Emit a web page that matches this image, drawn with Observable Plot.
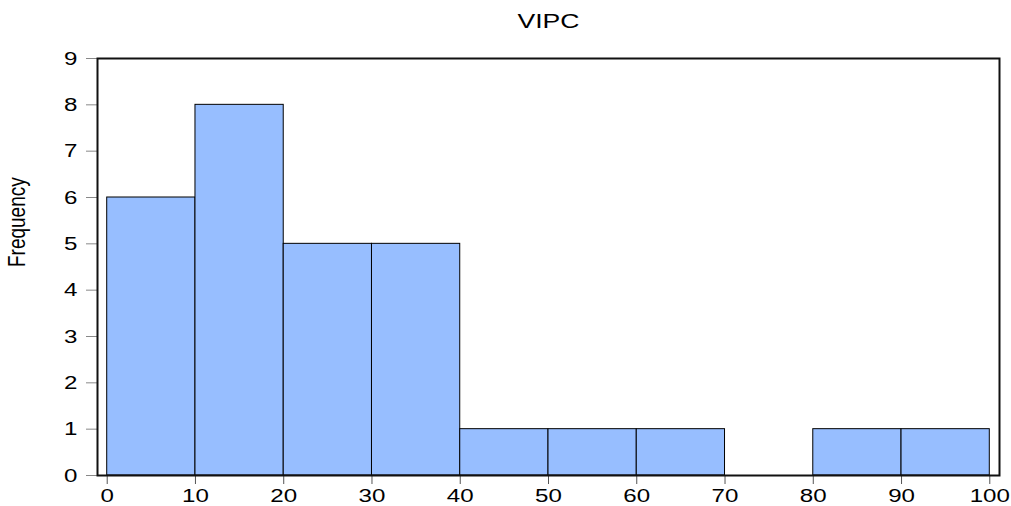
<!DOCTYPE html>
<html>
<head>
<meta charset="utf-8">
<script src="https://cdn.jsdelivr.net/npm/d3@7"></script>
<script src="https://cdn.jsdelivr.net/npm/@observablehq/plot@0.6"></script>
<style>
  html, body { margin: 0; padding: 0; background: #fff; }
  #chart svg { display: block; }
</style>
</head>
<body>
<div id="chart"></div>
<script>
const binStart = [0, 10, 20, 30, 40, 50, 60, 70, 80, 90];
const binEnd   = [10, 20, 30, 40, 50, 60, 70, 80, 90, 100];
const counts   = [6, 8, 5, 5, 1, 1, 1, 0, 1, 1];
const xTicks = [0, 10, 20, 30, 40, 50, 60, 70, 80, 90, 100];
const yTicks = [0, 1, 2, 3, 4, 5, 6, 7, 8, 9];
const title = "VIPC";
const yLabel = "Frequency";

const bins = binStart.map((s, i) => ({x1: s, x2: binEnd[i], y: counts[i]})).filter(d => d.y > 0);
const FONT = "'Liberation Sans', Arial, sans-serif";

// render transform: stretch each text element about its own anchor point
function stretchText(sx, sy) {
  return function (index, scales, values, dimensions, context, next) {
    const g = next(index, scales, values, dimensions, context);
    if (g && g.querySelectorAll) {
      g.querySelectorAll("text").forEach(t => {
        const tr = t.getAttribute("transform") || "";
        t.setAttribute("transform", `${tr} scale(${sx},${sy})`);
      });
    }
    return g;
  };
}

const chart = Plot.plot({
  width: 1011,
  height: 506,
  marginLeft: 97,
  marginRight: 12,
  marginTop: 58,
  marginBottom: 31,
  style: {fontFamily: FONT, color: "#000", background: "#fff"},
  x: {domain: [-1.1, 101.1], label: null, axis: null},
  y: {domain: [0, 9], label: null, axis: null},
  marks: [
    Plot.rectY(bins, {x1: "x1", x2: "x2", y: "y", fill: "#97BEFF", stroke: "#000", strokeWidth: 1}),
    Plot.axisX({ticks: xTicks, tickSize: 9, tickPadding: 4, stroke: "#555", fill: "#000", fontSize: 19, label: null, render: stretchText(1.27, 1)}),
    Plot.axisY({ticks: yTicks, tickSize: 11, tickPadding: 9, stroke: "#888", fill: "#000", fontSize: 19, label: null, render: stretchText(1.27, 1)}),
    Plot.frame({stroke: "#111", strokeWidth: 2}),
    Plot.text([title], {frameAnchor: "top", dy: -45, fontSize: 20, fill: "#000", render: stretchText(1.33, 1)}),
    Plot.text([yLabel], {frameAnchor: "left", dx: -80, rotate: -90, fontSize: 19, fill: "#000", render: stretchText(1, 1.27)})
  ]
});
document.getElementById("chart").appendChild(chart);
</script>
</body>
</html>
